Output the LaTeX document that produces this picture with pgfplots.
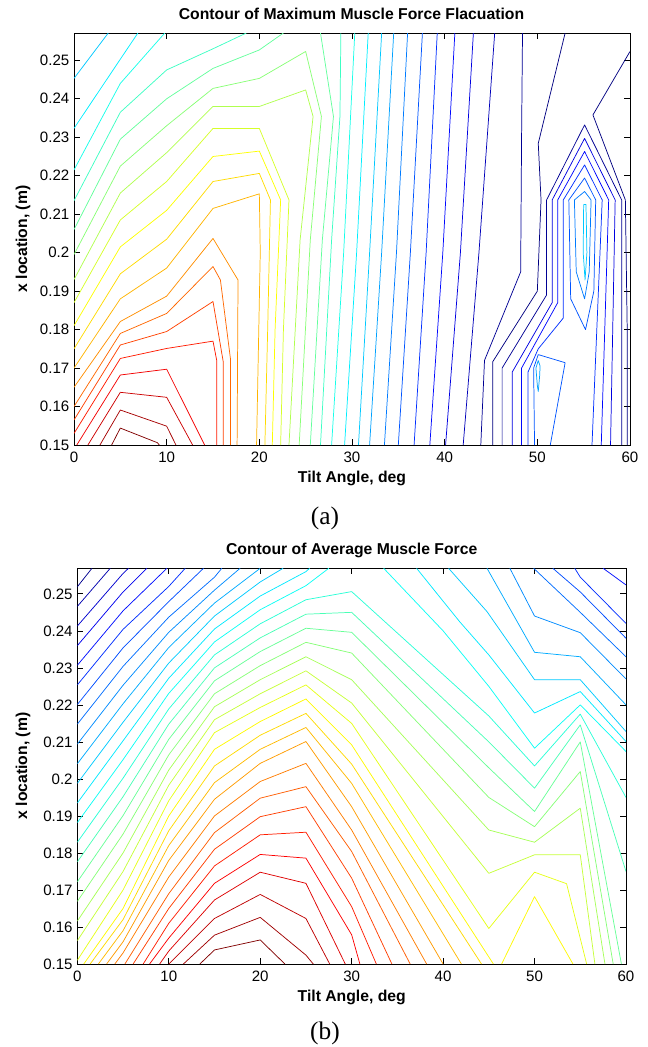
\documentclass[border=0pt]{standalone}
\usepackage{pgfplots}
\pgfplotsset{compat=1.18}
\usepackage{fontspec}
\setmainfont{Liberation Sans}
\newfontfamily\capfont{Liberation Serif}

\newcommand\defjet[2]{%
 \pgfmathsetmacro\jr{max(0,min(1,1.5-abs(4*(#2)-3)))}%
 \pgfmathsetmacro\jg{max(0,min(1,1.5-abs(4*(#2)-2)))}%
 \pgfmathsetmacro\jb{max(0,min(1,1.5-abs(4*(#2)-1)))}%
 \definecolor{#1}{rgb}{\jr,\jg,\jb}}
\pgfplotsforeachungrouped \ii in {1,...,29}{\pgfmathsetmacro\jt{max(0,(27.5-\ii)/26.5)}\edef\tmp{\noexpand\defjet{a\ii}{\jt}}\tmp}
\pgfplotsforeachungrouped \ii in {1,...,35}{\pgfmathsetmacro\jt{max(0,(33.5-\ii)/32.5)}\edef\tmp{\noexpand\defjet{b\ii}{\jt}}\tmp}

\newcommand\C[2]{\addplot[draw=#1,line width=0.55pt,line join=round] coordinates {#2};}

\pgfplotsset{cstyle/.style={scale only axis, xmin=0,xmax=60,ymin=0.15,
  xtick={0,10,20,30,40,50,60}, xticklabels={0,10,20,30,40,50,60},
  ytick={0.15,0.16,0.17,0.18,0.19,0.2,0.21,0.22,0.23,0.24,0.25},
  yticklabels={0.15,0.16,0.17,0.18,0.19,0.2,0.21,0.22,0.23,0.24,0.25},
  tick align=inside, major tick length=4.5pt,
  tick style={black,line width=0.5pt}, axis line style={line width=0.6pt},
  ticklabel style={font=\fontsize{11.3}{12}\selectfont},
  xticklabel style={yshift=-1.5pt},
  /pgf/number format/assume math mode=true}}

\begin{document}
\begin{tikzpicture}
\useasboundingbox (0,0) rectangle (485.25pt,-785.25pt);

% ---------------- panel (a)
\begin{axis}[cstyle, at={(55.5pt,-333.75pt)}, anchor=south west, width=417pt, height=309pt, ymax=0.2571]
\C{a1}{(4.06,0.15)(5,0.1544)(9,0.1506)(9.2,0.15)}
\C{a2}{(2.8,0.15)(5,0.1591)(10,0.1549)(11,0.15)}
\C{a3}{(1.5,0.15)(5,0.1637)(10,0.1624)(12.8,0.15)}
\C{a4}{(0.3,0.15)(5,0.1682)(10,0.1697)(14.1,0.15)}
\C{a5}{(0,0.153)(5,0.1725)(10,0.1751)(15,0.177)(15.4,0.172)(15.4,0.15)}
\C{a6}{(0,0.1565)(5,0.176)(10,0.1795)(15,0.1873)(16.1,0.1717)(16.1,0.15)}
\C{a7}{(0,0.16)(5,0.179)(10,0.1842)(15,0.1964)(15.8,0.1929)(16.9,0.1721)(16.9,0.15)}
\C{a8}{(0,0.165)(5,0.1821)(10,0.1887)(15,0.2037)(17.7,0.1929)(17.6,0.15)}
\C{a9}{(0,0.17)(5,0.188)(10,0.196)(15,0.2115)(20,0.2153)(20.1,0.2)(19.7,0.15)}
\C{a10}{(0,0.175)(5,0.1945)(10,0.2035)(15,0.2185)(20,0.2206)(21.2,0.2137)(20.9,0.18)(20.6,0.15)}
\C{a11}{(0,0.181)(5,0.2015)(10,0.211)(15,0.225)(20,0.2264)(22.3,0.2137)(21.7,0.18)(21.4,0.15)}
\C{a12}{(0,0.187)(5,0.2085)(10,0.2185)(15,0.2323)(20,0.2323)(23.2,0.2137)(22.6,0.18)(22.3,0.15)}
\C{a13}{(0,0.193)(5,0.2155)(10,0.226)(15,0.238)(20,0.238)(25,0.2423)(25.8,0.2354)(24.4,0.2033)(23.2,0.15)}
\C{a14}{(0,0.1995)(5,0.2225)(10,0.233)(15,0.2427)(20,0.2453)(25,0.2523)(26.7,0.2354)(25.5,0.2033)(24.3,0.15)}
\C{a15}{(0,0.206)(5,0.2295)(10,0.24)(15,0.2479)(20,0.2527)(22.6,0.2571)}
\C{a15}{(26.6,0.2571)(28,0.2354)(26.8,0.2033)(25.5,0.15)}
\C{a16}{(0,0.2135)(5,0.2365)(10,0.2475)(15,0.253)(18.6,0.2571)}
\C{a16}{(28.8,0.2571)(28.7,0.2354)(27.8,0.2033)(26.6,0.15)}
\C{a17}{(0,0.2215)(5,0.244)(9.8,0.2571)}
\C{a17}{(30.3,0.2571)(29.1,0.2)(27.8,0.15)}
\C{a18}{(0,0.2323)(5,0.2503)(6.9,0.2571)}
\C{a18}{(31.75,0.2571)(30.5,0.2)(29.2,0.15)}
\C{a19}{(0,0.2453)(3.7,0.2571)}
\C{a19}{(33.2,0.2571)(31.9,0.2)(30.7,0.15)}
\C{a20}{(34.5,0.2571)(33.2,0.2)(31.9,0.15)}
\C{a21}{(36,0.2571)(34.8,0.2)(33.5,0.15)}
\C{a22}{(37.6,0.2571)(36.3,0.2)(35,0.15)}
\C{a23}{(39.2,0.2571)(38,0.2)(36.7,0.15)}
\C{a24}{(41.1,0.2571)(39.8,0.2)(38.4,0.15)}
\C{a25}{(43.1,0.2571)(41.7,0.2)(40.1,0.15)}
\C{a26}{(45.4,0.2571)(43.7,0.2)(42,0.15)}
\C{a27}{(48.4,0.2571)(48.3,0.23)(48.2,0.195)(44.3,0.172)(43.9,0.15)}
\C{a28}{(45.2,0.15)(45.2,0.1717)(50,0.19)(50.4,0.2137)(50.1,0.2284)(53,0.2571)}
\C{a28}{(60,0.2523)(56,0.2358)(59.5,0.2137)(59.7,0.18)(59.7,0.15)}
\C{a27}{(46.2,0.15)(46.2,0.17)(51,0.189)(51,0.2137)(55.1,0.2332)(59.1,0.2137)(59.1,0.15)}
\C{a25}{(47.3,0.15)(47.3,0.169)(51.6,0.187)(51.6,0.2137)(55.1,0.2297)(58.4,0.2137)(57.9,0.15)}
\C{a24}{(48.3,0.15)(48.3,0.17)(52.2,0.187)(52.2,0.2137)(55.1,0.2263)(57.7,0.2137)(56.9,0.15)}
\C{a23}{(49,0.15)(49,0.169)(50.1,0.175)(52.8,0.183)(52.8,0.2137)(55.1,0.2228)(57,0.2137)(55.9,0.15)}
\C{a22}{(49.7,0.15)(49.6,0.17)(50.1,0.1735)(53,0.1714)(51.4,0.15)}
\C{a20}{(50.1,0.172)(49.85,0.17)(50,0.1655)(50.1,0.1639)(50.25,0.168)(50.3,0.1705)(50.1,0.172)}
\C{a22}{(53.4,0.2137)(55.1,0.2194)(56.3,0.2137)(56.1,0.19)(55.2,0.18)(53.6,0.188)(53.4,0.2137)}
\C{a21}{(54,0.2137)(55.1,0.2159)(55.8,0.2137)(55.6,0.195)(55.1,0.188)(54.2,0.195)(54,0.2137)}
\C{a19}{(55,0.2125)(55.25,0.2125)(55.35,0.2)(55.15,0.1929)(54.95,0.2)(55,0.2125)}
\end{axis}

% ---------------- panel (b)
\begin{axis}[cstyle, at={(58pt,-723pt)}, anchor=south west, width=411.5pt, height=296.8pt, ymax=0.2569]
\C{b1}{(13.4,0.15)(15,0.1538)(20,0.1565)(22.7,0.15)}
\C{b2}{(11.6,0.15)(15,0.1578)(20,0.1626)(25,0.1524)(25.8,0.15)}
\C{b3}{(10,0.15)(15,0.1623)(20,0.1688)(25,0.1623)(27.6,0.15)}
\C{b4}{(9,0.15)(10,0.1535)(15,0.1673)(20,0.1748)(25,0.1718)(29.3,0.15)}
\C{b5}{(7.9,0.15)(10,0.157)(15,0.1718)(20,0.1796)(25,0.1786)(30,0.1579)(30.9,0.15)}
\C{b6}{(7.2,0.15)(10,0.161)(15,0.1765)(20,0.1849)(25,0.1856)(30,0.1655)(32.7,0.15)}
\C{b7}{(6.1,0.15)(10,0.165)(15,0.181)(20,0.1898)(25,0.1925)(30,0.1732)(34.4,0.15)}
\C{b8}{(5.2,0.15)(10,0.169)(15,0.1855)(20,0.1948)(25,0.1979)(30,0.1804)(36.4,0.15)}
\C{b9}{(4.1,0.15)(5,0.153)(10,0.1735)(15,0.19)(20,0.1993)(25,0.2042)(30,0.1862)(38.2,0.15)}
\C{b10}{(3.2,0.15)(5,0.156)(10,0.178)(15,0.1945)(20,0.2042)(25,0.2101)(30,0.1925)(40,0.15)}
\C{b11}{(2.3,0.15)(5,0.159)(10,0.182)(15,0.199)(20,0.208)(25,0.2139)(30,0.1988)(42,0.15)}
\C{b12}{(1.4,0.15)(5,0.162)(10,0.186)(15,0.2035)(20,0.2118)(25,0.2177)(30,0.204)(44.2,0.15)}
\C{b13}{(0.7,0.15)(5,0.165)(10,0.19)(15,0.208)(20,0.2155)(25,0.2216)(30,0.2092)(45.5,0.15)}
\C{b13}{(46.4,0.15)(50,0.1682)(54.2,0.15)}
\C{b14}{(0,0.151)(5,0.17)(10,0.1941)(15,0.2125)(20,0.2193)(25,0.2254)(30,0.215)(45,0.1596)(50,0.1748)(53.5,0.1717)(55.7,0.15)}
\C{b15}{(0,0.1563)(5,0.175)(10,0.1983)(15,0.216)(20,0.223)(25,0.2292)(30,0.2205)(45,0.1745)(50,0.1795)(55,0.1795)(56.6,0.15)}
\C{b16}{(0,0.1616)(5,0.18)(10,0.2024)(15,0.2195)(20,0.2268)(25,0.233)(30,0.2268)(45,0.1862)(50,0.1829)(55,0.1921)(57.7,0.15)}
\C{b17}{(0,0.1669)(5,0.1851)(10,0.2065)(15,0.223)(20,0.2306)(25,0.2369)(30,0.234)(45,0.195)(50,0.1871)(55,0.202)(58.6,0.15)}
\C{b18}{(0,0.1722)(5,0.1901)(10,0.2107)(15,0.2265)(20,0.2344)(25,0.2407)(30,0.2396)(45,0.203)(50,0.1912)(55,0.21)(59.5,0.15)}
\C{b19}{(0,0.1776)(5,0.1952)(10,0.2148)(15,0.23)(20,0.2381)(25,0.2445)(30,0.245)(45,0.21)(50,0.1975)(55,0.2146)(60,0.175)}
\C{b20}{(0,0.1829)(5,0.2002)(10,0.2189)(15,0.2335)(20,0.2419)(25,0.2484)(30,0.2506)(45,0.217)(50,0.2035)(55,0.2175)(60,0.195)}
\C{b21}{(0,0.1882)(5,0.2052)(10,0.2231)(15,0.237)(20,0.2457)(25,0.2522)(27.5,0.2569)}
\C{b21}{(33.5,0.2569)(40,0.24)(45,0.225)(50,0.2083)(55,0.22)(60,0.2074)}
\C{b22}{(0,0.1935)(5,0.2103)(10,0.2272)(15,0.2405)(20,0.2494)(25,0.256)(25.4,0.2569)}
\C{b22}{(37.1,0.2569)(41.8,0.2425)(45,0.2335)(50,0.2178)(55,0.2236)(60,0.2101)}
\C{b23}{(0,0.1988)(5,0.2153)(10,0.2313)(15,0.244)(20,0.2532)(22.5,0.2569)}
\C{b23}{(40.6,0.2569)(44.8,0.2452)(50,0.2268)(55,0.2268)(60,0.2128)}
\C{b24}{(0,0.2041)(5,0.2203)(10,0.2355)(15,0.2475)(20,0.2569)}
\C{b24}{(44.8,0.2569)(50,0.2342)(55,0.233)(60,0.22)}
\C{b25}{(0,0.2094)(5,0.2253)(10,0.2396)(15,0.251)(17.8,0.2569)}
\C{b25}{(47.3,0.2569)(50,0.244)(55,0.2395)(60,0.227)}
\C{b26}{(0,0.2148)(5,0.2304)(10,0.2437)(15,0.2545)(15.8,0.2569)}
\C{b26}{(49.9,0.2569)(55,0.245)(60,0.233)}
\C{b27}{(0,0.2201)(5,0.2354)(10,0.2479)(13.8,0.2569)}
\C{b27}{(52,0.2569)(55,0.2505)(60,0.238)}
\C{b28}{(0,0.2254)(5,0.2404)(10,0.252)(11.8,0.2569)}
\C{b28}{(54.4,0.2569)(55,0.2545)(60,0.242)}
\C{b29}{(0,0.2307)(5,0.2454)(9.8,0.2569)}
\C{b29}{(57.5,0.2569)(60,0.2524)}
\C{b30}{(0,0.236)(5,0.2505)(7.6,0.2569)}
\C{b31}{(0,0.2413)(5,0.2555)(5.6,0.2569)}
\C{b32}{(0,0.2466)(3.6,0.2569)}
\C{b33}{(0,0.2519)(1.6,0.2569)}
\end{axis}

% ---------------- texts
\node[font=\bfseries\fontsize{11.8}{14}\selectfont] at (263.6pt,-10.5pt) {Contour of Maximum Muscle Force Flacuation};
\node[font=\bfseries\fontsize{11.8}{14}\selectfont] at (264pt,-358.5pt) {Tilt Angle, deg};
\node[font=\bfseries\fontsize{11.8}{14}\selectfont, rotate=90] at (17.25pt,-179.25pt) {x location, (m)};
\node[font=\capfont\fontsize{19}{22}\selectfont] at (243.75pt,-388.5pt) {(a)};

\node[font=\bfseries\fontsize{11.8}{14}\selectfont] at (263.8pt,-412.5pt) {Contour of Average Muscle Force};
\node[font=\bfseries\fontsize{11.8}{14}\selectfont] at (263.8pt,-747.75pt) {Tilt Angle, deg};
\node[font=\bfseries\fontsize{11.8}{14}\selectfont, rotate=90] at (17.25pt,-574.5pt) {x location, (m)};
\node[font=\capfont\fontsize{19}{22}\selectfont] at (243.75pt,-774.75pt) {(b)};
\end{tikzpicture}
\end{document}
